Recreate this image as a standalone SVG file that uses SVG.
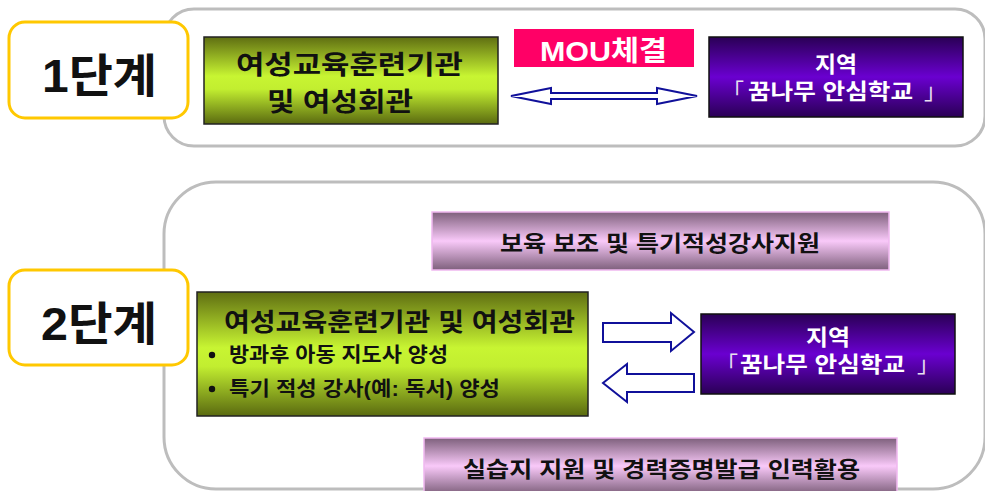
<svg xmlns="http://www.w3.org/2000/svg" width="985" height="491" viewBox="0 0 985 491">
<defs>
<linearGradient id="gGreen" x1="0" y1="0" x2="0" y2="1">
<stop offset="0" stop-color="#5f6e12"/><stop offset="0.45" stop-color="#c8f532"/><stop offset="0.6" stop-color="#c2ee30"/><stop offset="1" stop-color="#5a6a10"/>
</linearGradient>
<linearGradient id="gPurple" x1="0" y1="0" x2="0" y2="1">
<stop offset="0" stop-color="#2a0055"/><stop offset="0.5" stop-color="#6a00d0"/><stop offset="1" stop-color="#2a0055"/>
</linearGradient>
<linearGradient id="gPink" x1="0" y1="0" x2="0" y2="1">
<stop offset="0" stop-color="#7e607c"/><stop offset="0.5" stop-color="#f9c9f9"/><stop offset="1" stop-color="#7e607c"/>
</linearGradient>
<style>
text{font-family:"Liberation Sans","Noto Sans CJK KR",sans-serif;font-weight:bold;}
.outer{fill:#fff;stroke:#bdbdbd;stroke-width:3;}
.stage{fill:#fff;stroke:#ffc800;stroke-width:3;}
.stageT{font-size:46px;fill:#111;}
.green{fill:url(#gGreen);stroke:#222;stroke-width:1.5;}
.purple{fill:url(#gPurple);stroke:#111;stroke-width:1.5;}
.pink{fill:url(#gPink);stroke:#f0b8f0;stroke-width:1.5;}
.dk{fill:#111;}
.wt{fill:#fff;}
.br{font-weight:normal;fill:#e8e0f0;}
.arrow{fill:#fff;stroke:#10109a;stroke-width:2;stroke-linejoin:miter;}
</style>
</defs>

<rect class="outer" x="164" y="9" width="821" height="137" rx="30"/>
<rect class="outer" x="164" y="182" width="821" height="307" rx="52"/>

<g id="stage1">
<rect class="stage" x="9" y="22" width="179" height="96" rx="16"/>
<text class="stageT" x="42" y="92" textLength="115" lengthAdjust="spacingAndGlyphs">1단계</text>
</g>

<g id="institution1">
<rect class="green" x="204" y="37" width="294" height="87"/>
<text class="dk" x="236" y="74" font-size="26" textLength="227" lengthAdjust="spacingAndGlyphs">여성교육훈련기관</text>
<text class="dk" x="267" y="111" font-size="26" textLength="146" lengthAdjust="spacingAndGlyphs">및 여성회관</text>
</g>

<g id="mou">
<rect x="514" y="29" width="180" height="38" fill="#ff0066"/>
<text class="wt" x="540" y="61" font-size="28" textLength="127" lengthAdjust="spacingAndGlyphs">MOU체결</text>
</g>

<g id="school1">
<rect class="purple" x="709" y="37" width="254" height="80"/>
<text class="wt" x="815" y="72" font-size="22" textLength="42" lengthAdjust="spacingAndGlyphs">지역</text>
<text class="wt" y="99" font-size="22"><tspan class="br" x="722">「</tspan><tspan x="748" textLength="165" lengthAdjust="spacingAndGlyphs">꿈나무 안심학교</tspan><tspan class="br" x="924">」</tspan></text>
</g>

<g id="stage2">
<rect class="stage" x="9" y="270" width="179" height="95" rx="16"/>
<text class="stageT" x="41" y="340" textLength="116" lengthAdjust="spacingAndGlyphs">2단계</text>
</g>

<g id="support1">
<rect class="pink" x="432" y="212" width="457" height="58"/>
<text class="dk" x="500" y="251" font-size="22" textLength="320" lengthAdjust="spacingAndGlyphs">보육 보조 및 특기적성강사지원</text>
</g>

<g id="institution2">
<rect class="green" x="197" y="292" width="391" height="124"/>
<text class="dk" x="224" y="331" font-size="25" textLength="351" lengthAdjust="spacingAndGlyphs">여성교육훈련기관 및 여성회관</text>
<circle class="dk" cx="212" cy="355" r="3.2"/>
<text class="dk" x="229" y="362" font-size="20" textLength="219" lengthAdjust="spacingAndGlyphs">방과후 아동 지도사 양성</text>
<circle class="dk" cx="212" cy="389" r="3.2"/>
<text class="dk" x="229" y="396" font-size="20" textLength="271" lengthAdjust="spacingAndGlyphs">특기 적성 강사(예: 독서) 양성</text>
</g>

<g id="school2">
<rect class="purple" x="701" y="314" width="254" height="80"/>
<text class="wt" x="806" y="345" font-size="22" textLength="44" lengthAdjust="spacingAndGlyphs">지역</text>
<text class="wt" y="372" font-size="22"><tspan class="br" x="716">「</tspan><tspan x="740" textLength="165" lengthAdjust="spacingAndGlyphs">꿈나무 안심학교</tspan><tspan class="br" x="917">」</tspan></text>
</g>

<g id="support2">
<rect class="pink" x="424" y="438" width="473" height="56"/>
<text class="dk" x="463" y="477" font-size="22" textLength="397" lengthAdjust="spacingAndGlyphs">실습지 지원 및 경력증명발급 인력활용</text>
</g>

<g id="connectors">
<path class="arrow" d="M511,96 L551,88 L551,93 L657,93 L657,88 L697,96 L657,104 L657,99 L551,99 L551,104 Z"/>
<path class="arrow" d="M603,323 L671,323 L671,313 L694,332 L671,351 L671,342 L603,342 Z"/>
<path class="arrow" d="M694,374 L627,374 L627,364 L603,383 L627,402 L627,392 L694,392 Z"/>
</g>
</svg>
